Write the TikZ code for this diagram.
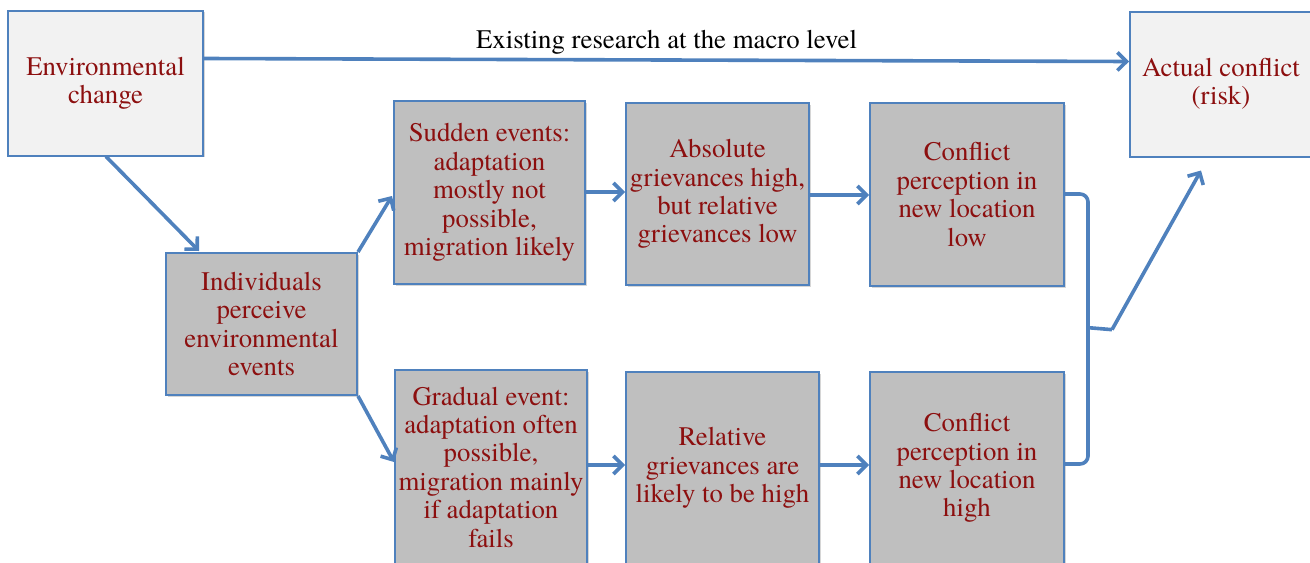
\documentclass[tikz,border=0pt]{standalone}
\usepackage{fontspec}
\setmainfont{TeX Gyre Termes}
\newfontfamily\tnr{TeX Gyre Termes}
\usetikzlibrary{arrows.meta,calc,shadows}
\definecolor{bblue}{HTML}{4F81BD}
\definecolor{dred}{HTML}{8C0F0F}
\definecolor{gfill}{HTML}{BFBFBF}
\definecolor{lfill}{HTML}{F2F2F2}
\begin{document}
\begin{tikzpicture}[x=0.5pt,y=-0.5pt,
  box/.style={draw=bblue,line width=1pt,fill=gfill,align=center,text=dred,
    font=\tnr\fontsize{13.4}{14.2}\selectfont,inner sep=0pt,
    drop shadow={shadow xshift=0.8pt,shadow yshift=-0.8pt,fill=black!40,opacity=0.4}},
  lbox/.style={box,fill=lfill},
  conn/.style={draw=bblue,line width=1.8pt,-{Straight Barb[length=4.5pt,width=9pt,line width=1.8pt]}},
  plain/.style={draw=bblue,line width=1.8pt}]
\useasboundingbox (0,0) rectangle (1310,562);
\clip (0,0) rectangle (1310,562);
\node[lbox,minimum width=97.5pt,minimum height=72.5pt] (env) at (105.5,83) {Environmental\\change};
\node[lbox,minimum width=91pt,minimum height=72.5pt] (act) at (1221,84) {Actual conflict\\(risk)};
\node[box,minimum width=95.5pt,minimum height=71pt] (ind) at (261.5,324) {Individuals\\perceive\\environmental\\events};
\node[box,minimum width=95.5pt,minimum height=91.5pt] (sud) at (489.5,192.5) {Sudden events:\\adaptation\\mostly not\\possible,\\migration likely};
\node[box,minimum width=91.5pt,minimum height=91pt] (abs) at (717.5,194) {Absolute\\grievances high,\\but relative\\grievances low};
\node[box,minimum width=97pt,minimum height=91.5pt] (low) at (967,194.5) {Conflict\\perception in\\new location\\low};
\node[box,minimum width=96pt,minimum height=97pt] (grad) at (491,467) {Gradual event:\\adaptation often\\possible,\\migration mainly\\if adaptation\\fails};
\node[box,minimum width=96.5pt,minimum height=96pt] (rel) at (722.5,468) {Relative\\grievances are\\likely to be high};
\node[box,minimum width=97pt,minimum height=96pt] (high) at (967,468) {Conflict\\perception in\\new location\\high};
% top arrow
\draw[conn] ($(env.north east)+(0,49)$) -- node[above=0pt,inner sep=2pt,text=black,font=\tnr\fontsize{13.4}{14.2}\selectfont] (lab) {Existing research at the macro level} ($(act.north west)+(0,51)$);
% diagonal arrows
\draw[conn] ($(env.south west)+(99,0)$) -- ($(ind.north west)+(34,-1)$);
\draw[conn] (ind.north east) -- ($(sud.north west)+(-1,96)$);
\draw[conn] (ind.south east) -- ($(grad.north west)+(0,93)$);
% horizontal arrows
\draw[conn] ($(sud.north east)+(0,92)$) -- ($(abs.north west)+(0,90)$);
\draw[conn] ($(abs.north east)+(0,93)$) -- ($(low.north west)+(0,93)$);
\draw[conn] ($(grad.north west)+(192,96)$) -- ($(rel.north west)+(0,94)$);
\draw[conn] ($(rel.north east)+(0,94)$) -- ($(high.north west)+(0,94)$);
% bracket
\coordinate (bt) at ($(low.north east)+(23,92)$);
\coordinate (bb) at ($(high.north east)+(23,93)$);
\coordinate (m) at ($(bt)!0.495!(bb)$);
\coordinate (m2) at ($(m)+(24,2)$);
\draw[plain,rounded corners=4pt] ($(low.north east)+(0,92)$) -- (bt) -- (bb) -- ($(high.north east)+(0,93)$);
\draw[plain,rounded corners=3pt] (m) -- (m2);
\draw[conn] (m2) -- ($(act.south west)+(72,13)$);
\end{tikzpicture}
\end{document}
